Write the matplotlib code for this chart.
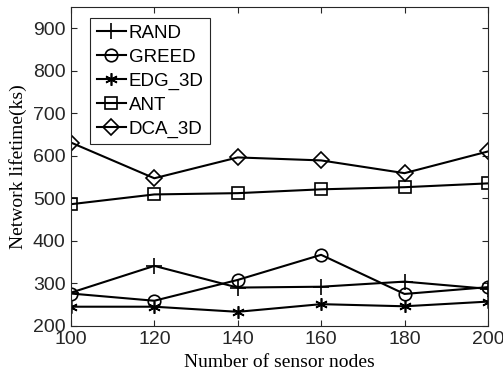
import matplotlib

matplotlib.use("Agg")
import matplotlib.pyplot as plt

nodes = [100, 120, 140, 160, 180, 200]
rand = [278, 341, 290, 292, 304, 287]
greed = [276, 259, 308, 367, 275, 291]
edg_3d = [245, 245, 233, 251, 246, 257]
ant = [486, 509, 512, 521, 526, 535]
dca_3d = [631, 547, 596, 589, 559, 610]

series = [
    ("RAND", rand, "+", 11),
    ("GREED", greed, "o", 9),
    ("EDG_3D", edg_3d, (6, 2, 0), 9),
    ("ANT", ant, "s", 8),
    ("DCA_3D", dca_3d, "D", 8),
]

fig = plt.figure(figsize=(5.03, 3.82), dpi=100)
ax = fig.add_axes([0.141, 0.147, 0.829, 0.835])

for name, vals, mk, size in series:
    ax.plot(nodes, vals, color="black", lw=1.5, marker=mk, markersize=size,
            markerfacecolor="none", markeredgecolor="black", markeredgewidth=1.2,
            label=name)

ax.set_xlim(100, 200)
ax.set_ylim(200, 950)
ax.set_xticks(nodes)
ax.set_yticks(range(200, 901, 100))
ax.tick_params(direction="in", top=True, right=True, length=4, width=0.8,
               labelsize=14, colors="#262626", pad=4)
for lbl in ax.get_xticklabels() + ax.get_yticklabels():
    lbl.set_fontfamily("Liberation Sans")
for sp in ax.spines.values():
    sp.set_color("#262626")
    sp.set_linewidth(0.8)

ax.set_xlabel("Number of sensor nodes", fontfamily="Liberation Serif",
              fontsize=14, labelpad=4)
ax.set_ylabel("Network lifetime(ks)", fontfamily="Liberation Serif",
              fontsize=14, labelpad=4)

leg = ax.legend(loc="upper left", bbox_to_anchor=(0.046, 0.965), frameon=True,
                fancybox=False, edgecolor="#262626", framealpha=1,
                prop={"family": "Liberation Sans", "size": 13.5},
                handlelength=1.55, handletextpad=0.15, labelspacing=0.36,
                borderpad=0.35, borderaxespad=0)
leg.get_frame().set_linewidth(0.8)

fig.savefig("out.png", dpi=100)
